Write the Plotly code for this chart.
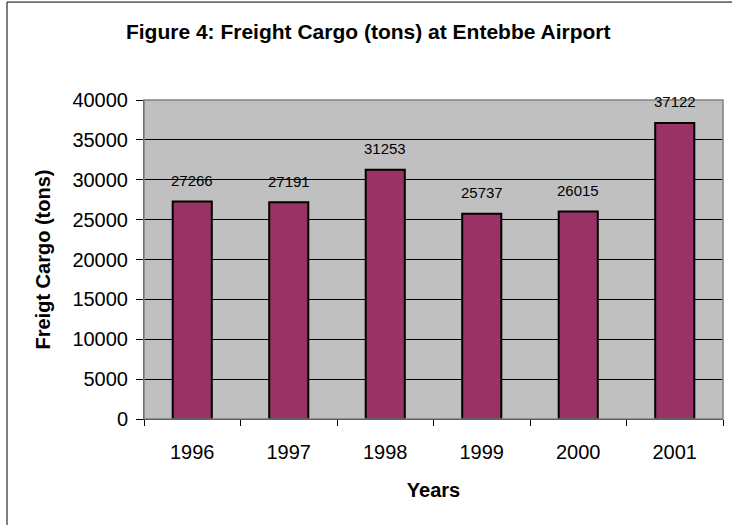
import plotly.graph_objects as go

years = ["1996", "1997", "1998", "1999", "2000", "2001"]
cargo = [27266, 27191, 31253, 25737, 26015, 37122]
y_ticks = [0, 5000, 10000, 15000, 20000, 25000, 30000, 35000, 40000]
y_tick_labels = [str(v) for v in y_ticks]

FONT = "Liberation Sans, Arial, sans-serif"

fig = go.Figure()
fig.add_trace(go.Bar(
    x=years, y=cargo,
    marker=dict(color="#993366", line=dict(color="black", width=2)),
    hoverinfo="x+y",
))

# value labels (category index positions on the category axis)
for i, v in enumerate(cargo):
    fig.add_annotation(x=i, y=v, text=str(v), showarrow=False, yshift=21,
                       font=dict(family=FONT, size=15, color="black"))

# outer chart border (left and top visible)
fig.add_shape(type="line", xref="paper", yref="paper",
              x0=-0.2366, x1=-0.2366, y0=1.307, y1=-0.34,
              line=dict(color="black", width=1))
fig.add_shape(type="line", xref="paper", yref="paper",
              x0=-0.2366, x1=1.03, y0=1.307, y1=1.307,
              line=dict(color="black", width=1))

fig.update_layout(
    width=732, height=525,
    margin=dict(l=144, r=9, t=100, b=106),
    paper_bgcolor="white",
    plot_bgcolor="#C0C0C0",
    bargap=0.595,
    showlegend=False,
    font=dict(family=FONT, color="black"),
    title=dict(text="<b>Figure 4: Freight Cargo (tons) at Entebbe Airport</b>",
               x=0.503, xref="container", y=0.939, yref="container",
               xanchor="center", yanchor="middle",
               font=dict(family=FONT, size=21, color="black")),
    xaxis=dict(
        type="category",
        range=[-0.5, len(years) - 0.5],
        title=dict(text="<b>Years</b>", font=dict(family=FONT, size=20), standoff=20),
        tickfont=dict(family=FONT, size=20),
        tickson="boundaries", ticks="outside", ticklen=6, tickcolor="black",
        ticklabelstandoff=15,
        showline=True, linecolor="black", linewidth=1, mirror=False,
        showgrid=False,
    ),
    yaxis=dict(
        title=dict(text="<b>Freigt Cargo (tons)</b>", font=dict(family=FONT, size=20), standoff=16),
        range=[0, 40000],
        tickvals=y_ticks,
        ticktext=y_tick_labels,
        tickfont=dict(family=FONT, size=20),
        ticks="outside", ticklen=7, tickcolor="black",
        ticklabelstandoff=4,
        showline=True, linecolor="#404040", linewidth=1,
        showgrid=True, gridcolor="black", gridwidth=1,
        zeroline=False,
    ),
)

# plot-area border (top/right gray)
fig.add_shape(type="rect", xref="paper", yref="paper", x0=0, x1=1, y0=0, y1=1,
              line=dict(color="#808080", width=1.5), layer="above")

fig.write_html("out.html")
